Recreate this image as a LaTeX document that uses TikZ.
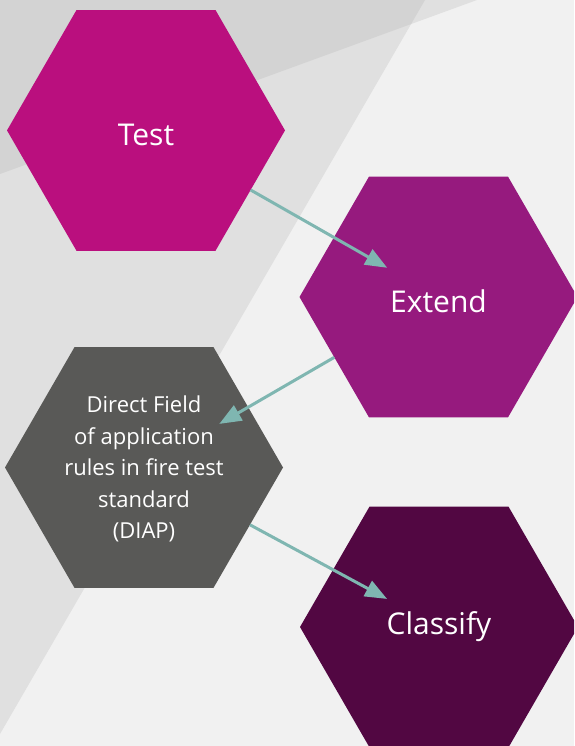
\documentclass[tikz,border=0pt]{standalone}
\usepackage{fontspec}
\setmainfont{Open Sans}
\usetikzlibrary{shapes.geometric,calc,arrows.meta}
\definecolor{bglight}{HTML}{F1F1F1}
\definecolor{bgmid}{HTML}{E0E0E0}
\definecolor{bgdark}{HTML}{D3D3D3}
\definecolor{testc}{HTML}{BA0F7E}
\definecolor{extendc}{HTML}{961A7E}
\definecolor{diapc}{HTML}{595957}
\definecolor{classc}{HTML}{520742}
\definecolor{arrowc}{HTML}{7FB6B1}
\tikzset{
  hexbox/.style={regular polygon, regular polygon sides=6, minimum size=278pt,
    inner sep=0pt, outer sep=0pt, draw=none},
  bigword/.style={text=white, font=\fontsize{30}{36}\selectfont, inner sep=0pt},
  smallwords/.style={text=white, font=\fontsize{22}{31.6}\selectfont, align=center, inner sep=0pt},
  flow/.style={draw=arrowc, line width=3pt, -{Triangle[length=22pt, width=17pt]}}
}
\begin{document}
\begin{tikzpicture}[x=1pt,y=-1pt]
\useasboundingbox (0,0) rectangle (574,746);
\clip (0,0) rectangle (574,746);
% background: light base, two overlapping grey bands
\fill[bglight] (0,0) rectangle (574,746);
\fill[bgmid] (0,0) -- (477,0) -- (0,174) -- cycle;
\begin{scope}
  \clip (0,0) -- (425,0) -- (0,734) -- cycle;
  \fill[bgmid] (0,0) rectangle (574,746);
  \fill[bgdark] (0,0) -- (477,0) -- (0,174) -- cycle;
\end{scope}
% hexagons
\node[hexbox, fill=testc] (test) at (146,130.4) {};
\node[hexbox, fill=extendc] (extend) at (438.5,297) {};
\node[hexbox, fill=diapc] (diap) at (144,467.5) {};
\node[hexbox, fill=classc] (classify) at (439,627) {};
% labels
\node[bigword] (testlbl) at (146,134.5) {Test};
\node[bigword] (extendlbl) at (438.5,301) {Extend};
\node[smallwords] (diaplbl) at (144,469) {Direct Field\\of application\\rules in fire test\\standard\\(DIAP)};
\node[bigword] (classlbl) at (439,627) {Classify};
% connectors
\draw[flow] (test) -- ($(extend.center)!59pt!(test.center)$);
\draw[flow] (extend) -- ($(diap.center)!87pt!(extend.center)$);
\draw[flow] (diap) -- ($(classify.center)!59pt!(diap.center)$);
\end{tikzpicture}
\end{document}
